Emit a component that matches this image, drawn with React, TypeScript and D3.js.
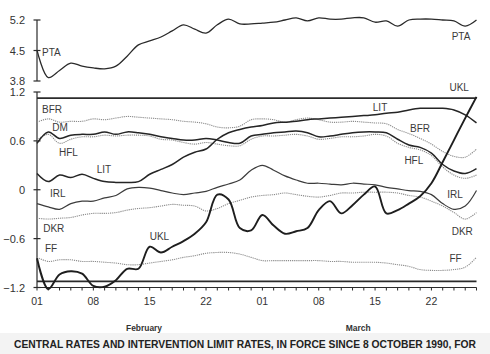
import * as d3 from 'd3';

// business days on the x axis (Feb / Mar 1991)
const febDays = [1, 4, 5, 6, 7, 8, 11, 12, 13, 14, 15, 18, 19, 20, 21, 22, 25, 26, 27, 28];
const marDays = [1, 4, 5, 6, 7, 8, 11, 12, 13, 14, 15, 18, 19, 20, 21, 22, 25, 26, 27, 28];
const labelledDays = [1, 8, 15, 22];
const monthNames = ['February', 'March'];

// escudo, upper panel
const pta = [4.51, 3.88, 4.04, 4.21, 4.14, 4.10, 4.08, 4.14, 4.37, 4.63, 4.72, 4.81, 4.95, 5.09, 4.99, 4.90, 5.09, 5.22, 5.11, 5.11,
  5.13, 5.15, 5.20, 5.25, 5.18, 5.25, 5.22, 5.22, 5.25, 5.25, 5.15, 5.18, 5.06, 5.20, 5.22, 5.22, 5.20, 5.18, 5.06, 5.20];

// deviations inside the band
const bfr = [0.83, 0.87, 0.83, 0.84, 0.84, 0.87, 0.86, 0.88, 0.90, 0.89, 0.88, 0.87, 0.86, 0.84, 0.83, 0.81, 0.77, 0.76, 0.78, 0.86,
  0.87, 0.86, 0.83, 0.86, 0.88, 0.86, 0.83, 0.83, 0.84, 0.83, 0.82, 0.81, 0.74, 0.69, 0.63, 0.56, 0.47, 0.41, 0.40, 0.50];
const dm = [0.57, 0.71, 0.63, 0.67, 0.68, 0.68, 0.71, 0.68, 0.71, 0.70, 0.68, 0.65, 0.63, 0.61, 0.61, 0.63, 0.61, 0.58, 0.57, 0.66,
  0.68, 0.70, 0.71, 0.72, 0.70, 0.65, 0.66, 0.68, 0.70, 0.71, 0.71, 0.70, 0.62, 0.55, 0.52, 0.45, 0.31, 0.23, 0.20, 0.26];
const hfl = [0.61, 0.68, 0.57, 0.62, 0.65, 0.65, 0.67, 0.66, 0.67, 0.67, 0.66, 0.62, 0.61, 0.58, 0.56, 0.58, 0.56, 0.54, 0.54, 0.62,
  0.66, 0.66, 0.67, 0.68, 0.66, 0.62, 0.63, 0.65, 0.65, 0.66, 0.68, 0.66, 0.57, 0.52, 0.49, 0.42, 0.28, 0.18, 0.14, 0.18];
const lit = [0.20, 0.10, 0.18, 0.15, 0.19, 0.14, 0.10, 0.09, 0.09, 0.10, 0.19, 0.25, 0.31, 0.40, 0.46, 0.50, 0.62, 0.70, 0.74, 0.77,
  0.79, 0.82, 0.83, 0.84, 0.86, 0.87, 0.88, 0.89, 0.90, 0.91, 0.92, 0.94, 0.95, 0.98, 1.00, 1.00, 1.00, 0.98, 0.92, 0.82];
const irl = [-0.17, -0.21, -0.24, -0.17, -0.14, -0.14, -0.10, -0.07, 0.01, 0.03, 0.02, -0.01, -0.04, -0.06, -0.04, -0.02, 0.03, 0.07, 0.12, 0.24,
  0.30, 0.24, 0.17, 0.12, 0.08, 0.08, 0.07, 0.06, 0.08, 0.07, 0.06, 0.03, 0.01, -0.01, -0.02, -0.06, -0.17, -0.24, -0.20, -0.01];
const dkr = [-0.35, -0.36, -0.35, -0.34, -0.31, -0.29, -0.29, -0.28, -0.25, -0.23, -0.22, -0.20, -0.18, -0.19, -0.20, -0.26, -0.23, -0.17, -0.13, -0.09,
  -0.07, -0.06, -0.04, -0.06, -0.08, -0.09, -0.07, -0.04, -0.04, -0.03, -0.03, -0.03, -0.04, -0.07, -0.09, -0.14, -0.20, -0.28, -0.36, -0.28];
const ff = [-0.83, -0.88, -0.86, -0.86, -0.88, -0.88, -0.89, -0.90, -0.92, -0.92, -0.90, -0.88, -0.86, -0.83, -0.81, -0.78, -0.77, -0.77, -0.79, -0.83,
  -0.87, -0.87, -0.87, -0.87, -0.87, -0.87, -0.88, -0.88, -0.89, -0.89, -0.89, -0.90, -0.92, -0.94, -0.98, -0.99, -0.99, -0.98, -0.95, -0.83];
const ukl = [-0.84, -1.22, -1.04, -1.00, -1.03, -1.18, -1.19, -1.11, -0.97, -0.97, -0.70, -0.77, -0.70, -0.63, -0.54, -0.40, -0.06, -0.12, -0.47, -0.50,
  -0.31, -0.44, -0.54, -0.51, -0.47, -0.25, -0.14, -0.29, -0.19, -0.06, 0.04, -0.29, -0.25, -0.17, -0.08, 0.08, 0.34, 0.61, 0.88, 1.14];

const topTicks = [3.8, 4.5, 5.2];
const mainTicks = [-1.2, -0.6, 0, 0.6, 1.2];
const bandLimit = 1.125;

const caption = 'CENTRAL RATES AND INTERVENTION LIMIT RATES, IN FORCE SINCE 8 OCTOBER 1990, FOR';

// [name, values, kind]
const series: [string, number[], string][] = [
  ['BFR', bfr, 'dot'],
  ['HFL', hfl, 'dot'],
  ['DKR', dkr, 'dot'],
  ['FF', ff, 'dot'],
  ['IRL', irl, 'thin'],
  ['DM', dm, 'solid'],
  ['LIT', lit, 'solid'],
  ['UKL', ukl, 'thick'],
];

// label anchors as [day index, value]
const leftLabels: [string, number, number][] = [
  ['BFR', 0.45, 0.94], ['DM', 1.35, 0.72], ['HFL', 1.95, 0.42], ['LIT', 5.3, 0.2],
  ['IRL', 1.15, -0.09], ['DKR', 0.55, -0.52], ['FF', 0.7, -0.76], ['UKL', 10.0, -0.62],
];
const rightLabels: [string, number, number][] = [
  ['UKL', 36.6, 1.21], ['LIT', 29.8, 0.97], ['BFR', 33.1, 0.71], ['HFL', 32.6, 0.31],
  ['IRL', 36.4, -0.10], ['DKR', 36.8, -0.55], ['FF', 36.6, -0.89],
];

const font = '"Liberation Sans", Arial, sans-serif';
const ink = '#2b2b2b';

export default function App() {
  const width = 490;
  const height = 354;
  const days = [...febDays, ...marDays];

  const x = d3.scaleLinear().domain([0, days.length - 1]).range([37, 476.5]);
  const yTop = d3.scaleLinear().domain([3.8, 5.2]).range([81, 20]);
  const y = d3.scaleLinear().domain([-1.2, 1.2]).range([287.5, 92]);

  const curve = d3.curveCatmullRom.alpha(0.5);
  const topLine = d3.line<number>().x((_, i) => x(i)).y(d => yTop(d)).curve(curve);
  const mainLine = d3.line<number>().x((_, i) => x(i)).y(d => y(d)).curve(curve);

  const styleOf = (kind: string) => {
    if (kind === 'dot') return { stroke: '#8c8c8c', strokeWidth: 1.1, strokeDasharray: '1.2 0.9' };
    if (kind === 'thin') return { stroke: '#3c3c3c', strokeWidth: 1.2 };
    if (kind === 'thick') return { stroke: '#1e1e1e', strokeWidth: 1.9 };
    return { stroke: '#252525', strokeWidth: 1.5 };
  };

  const fmt = (v: number) => (v === 0 ? '0' : d3.format('.1f')(v));

  // month centre positions on the day axis
  const monthCenters = [
    (x(0) + x(febDays.length - 1)) / 2,
    x(febDays.length + 8.5),
  ];

  return (
    <svg width={width} height={height} style={{ position: 'absolute', left: 0, top: 0, background: '#fff' }}>
      <rect x={0} y={333} width={width} height={height - 333} fill="#f3f3f3" />

      {/* upper panel: PTA */}
      <line x1={x(0)} x2={x(0)} y1={yTop(5.2)} y2={yTop(3.8)} stroke={ink} strokeWidth={1.2} />
      {topTicks.map(t => (
        <g key={'tt' + t}>
          <line x1={x(0) - 3.5} x2={x(0) + 3.5} y1={yTop(t)} y2={yTop(t)} stroke={ink} strokeWidth={1.2} />
          <text x={25} y={yTop(t) + 4} textAnchor="end" fontFamily={font} fontSize={11} fill="#333">{t.toFixed(1)}</text>
        </g>
      ))}
      <path d={topLine(pta) ?? ''} fill="none" stroke="#2a2a2a" strokeWidth={1.3} />
      <text x={x(0.45)} y={yTop(4.37)} fontFamily={font} fontSize={10} fill="#3a3a3a">PTA</text>
      <text x={x(36.8)} y={yTop(4.74)} fontFamily={font} fontSize={10} fill="#3a3a3a">PTA</text>

      {/* main panel: axis */}
      <line x1={x(0)} x2={x(0)} y1={y(1.2)} y2={y(-1.2)} stroke={ink} strokeWidth={1.2} />
      {mainTicks.map(t => (
        <g key={'mt' + t}>
          <line x1={x(0) - 3.5} x2={x(0) + 3.5} y1={y(t)} y2={y(t)} stroke={ink} strokeWidth={1.2} />
          <text x={25} y={y(t) + 4} textAnchor="end" fontFamily={font} fontSize={11} fill="#333">{fmt(t)}</text>
        </g>
      ))}

      {/* band limits */}
      <line x1={x(0)} x2={x(days.length - 1)} y1={y(bandLimit)} y2={y(bandLimit)} stroke={ink} strokeWidth={1.6} />
      <line x1={x(0)} x2={x(days.length - 1)} y1={y(-bandLimit)} y2={y(-bandLimit)} stroke={ink} strokeWidth={1.6} />

      {/* x axis */}
      <line x1={x(0)} x2={x(days.length - 1)} y1={y(-1.2)} y2={y(-1.2)} stroke={ink} strokeWidth={1.2} />
      {days.map((d, i) => (
        <line key={'xt' + i} x1={x(i)} x2={x(i)} y1={y(-1.2)} y2={y(-1.2) + 3} stroke={ink} strokeWidth={1} />
      ))}
      {days.map((d, i) =>
        labelledDays.includes(d) ? (
          <text key={'xl' + i} x={x(i)} y={305} textAnchor="middle" fontFamily={font} fontSize={10.5} fill="#333">
            {String(d).padStart(2, '0')}
          </text>
        ) : null
      )}
      {monthNames.map((m, k) => (
        <text key={m} x={monthCenters[k]} y={331} textAnchor="middle" fontFamily={font} fontSize={9}
          fontWeight="bold" fill="#333" textLength={m === 'February' ? 36 : 25} lengthAdjust="spacingAndGlyphs">
          {m}
        </text>
      ))}

      {/* series */}
      {series.map(([name, vals, kind]) => (
        <path key={name} d={mainLine(vals) ?? ''} fill="none" {...styleOf(kind)} strokeLinejoin="round" />
      ))}

      {[...leftLabels, ...rightLabels].map(([name, i, v], k) => (
        <text key={'lb' + k} x={x(i)} y={y(v)} fontFamily={font} fontSize={10} fill="#3a3a3a">{name}</text>
      ))}

      <text x={245} y={348} textAnchor="middle" fontFamily={font} fontSize={10} fontWeight="bold" fill="#222"
        textLength={462} lengthAdjust="spacingAndGlyphs">
        {caption}
      </text>
    </svg>
  );
}
